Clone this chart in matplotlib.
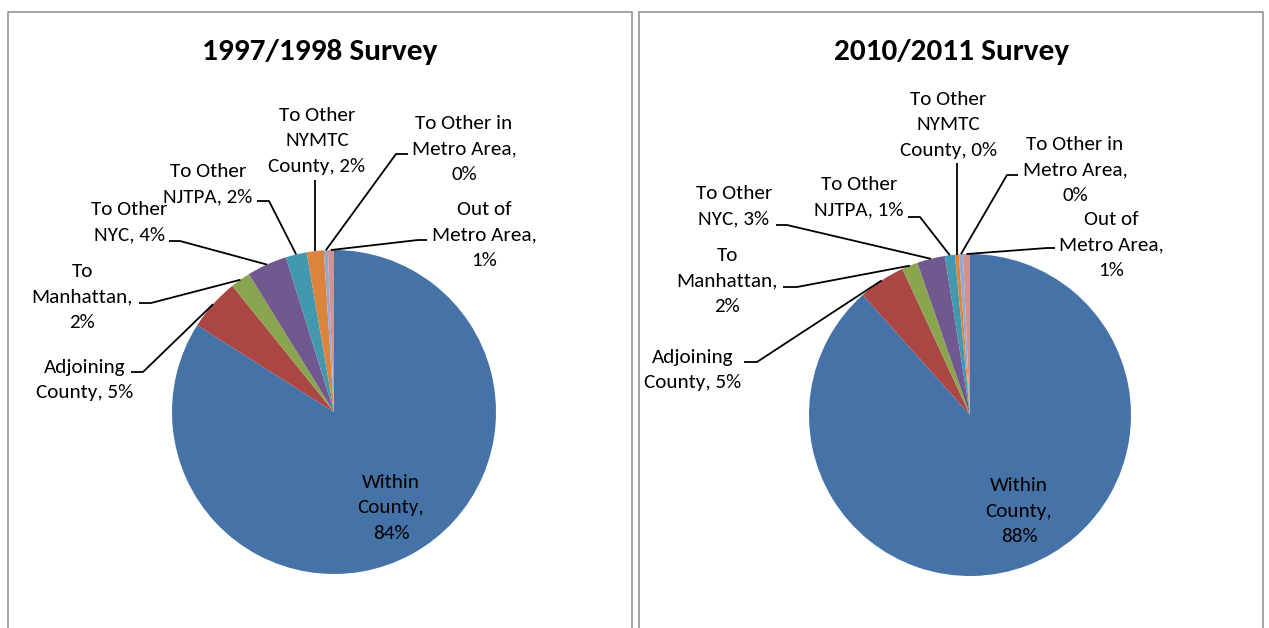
import matplotlib
matplotlib.use("Agg")
import matplotlib.pyplot as plt
from matplotlib import font_manager
import numpy as np

# Trip destination shares (percent of trips) by survey
categories = [
    "Within County",
    "Adjoining County",
    "To Manhattan",
    "To Other NYC",
    "To Other NJTPA",
    "To Other NYMTC County",
    "To Other in Metro Area",
    "Out of Metro Area",
]
share_1997 = [84.0, 5.2, 2.0, 4.0, 2.1, 1.7, 0.4, 0.6]
share_2010 = [88.4, 4.7, 1.6, 2.8, 1.0, 0.4, 0.4, 0.7]
titles = ["1997/1998 Survey", "2010/2011 Survey"]

colors = ["#4572A7", "#AA4643", "#89A54E", "#71588F",
          "#4198AF", "#DB843D", "#93A9CF", "#D19392"]

# words per line for each wrapped data label
line_breaks = [[1, 1, 1], [1, 2], [1, 1, 1], [2, 2], [2, 2], [2, 1, 2], [3, 2, 1], [2, 2, 1]]


def pick_font(candidates):
    names = {f.name for f in font_manager.fontManager.ttflist}
    for c in candidates:
        if c in names:
            return c
    return "DejaVu Sans"


FONT = pick_font(["Carlito", "Calibri", "Lato", "Open Sans"])
plt.rcParams["font.family"] = [FONT, "DejaVu Sans"]

W, H = 1269, 628
fig = plt.figure(figsize=(W / 100, H / 100), dpi=100)
ax = fig.add_axes([0, 0, 1, 1])


def Y(y):
    return H - y


# layout: text centre, leader start (x, y) and elbow x (None = straight vertical)
panels = [
    dict(values=share_1997, title=titles[0], frame=(8, 632), title_xy=(320, 52),
         center=(334, 412), radius=162,
         labels=[
             dict(xy=(391, 508)),
             dict(xy=(85, 380), start=(131, 372), elbow=143),
             dict(xy=(82, 297), start=(139, 303), elbow=151),
             dict(xy=(129, 222), start=(169, 241), elbow=180),
             dict(xy=(208, 184), start=(257, 201), elbow=269),
             dict(xy=(317, 141), start=(None, 180), elbow=None),
             dict(xy=(464, 149), start=(408, 154), elbow=396),
             dict(xy=(484, 235), start=(427, 240), elbow=418),
         ]),
    dict(values=share_2010, title=titles[1], frame=(639, 1263), title_xy=(952, 52),
         center=(970, 415), radius=161,
         labels=[
             dict(xy=(1019, 511)),
             dict(xy=(693, 370), start=(744, 362), elbow=757),
             dict(xy=(727, 281), start=(783, 287), elbow=797),
             dict(xy=(734, 206), start=(776, 225), elbow=787),
             dict(xy=(859, 197), start=(908, 217), elbow=920),
             dict(xy=(948, 125), start=(None, 163), elbow=None),
             dict(xy=(1075, 170), start=(1018, 175), elbow=1007),
             dict(xy=(1111, 245), start=(1055, 248), elbow=1047),
         ]),
]

LINE_PITCH = 25.5
LABEL_SIZE = 15.2
TITLE_SIZE = 22.5

for p in panels:
    cx, cy = p["center"]
    wedges, _ = ax.pie(p["values"], colors=colors, startangle=90, counterclock=False,
                       center=(cx, Y(cy)), radius=p["radius"],
                       wedgeprops=dict(linewidth=0, antialiased=True))

    # panel frame (open at the bottom)
    x0, x1 = p["frame"]
    ax.plot([x0, x0, x1, x1], [0, Y(12), Y(12), 0], color="#8c8c8c", lw=1.1,
            solid_joinstyle="miter", zorder=5)

    tx, ty = p["title_xy"]
    ax.text(tx, Y(ty), p["title"], ha="center", va="center", fontsize=TITLE_SIZE,
            fontweight="bold", color="black")

    for cat, val, w, lay, brk in zip(categories, p["values"], wedges, p["labels"], line_breaks):
        words = f"{cat}, {round(val):.0f}%".split(" ")
        lines, i = [], 0
        for n in brk:
            lines.append(" ".join(words[i:i + n]))
            i += n
        lx, ly = lay["xy"]
        k = len(lines)
        for j, line in enumerate(lines):
            ax.text(lx, Y(ly + (j - (k - 1) / 2) * LINE_PITCH), line, ha="center",
                    va="center", fontsize=LABEL_SIZE, color="black")

        if "start" in lay:
            mid = np.deg2rad((w.theta1 + w.theta2) / 2)
            rx = w.center[0] + w.r * np.cos(mid)
            ry = w.center[1] + w.r * np.sin(mid)
            sx, sy = lay["start"]
            if lay["elbow"] is None:
                xs, ys = [rx, rx], [Y(sy), ry]
            else:
                xs, ys = [sx, lay["elbow"], rx], [Y(sy), Y(sy), ry]
            ax.plot(xs, ys, color="black", lw=1.3, solid_capstyle="butt", zorder=4)

ax.set_xlim(0, W)
ax.set_ylim(0, H)
ax.set_aspect("auto")
ax.axis("off")

fig.savefig("out.png", dpi=100, facecolor="white")
